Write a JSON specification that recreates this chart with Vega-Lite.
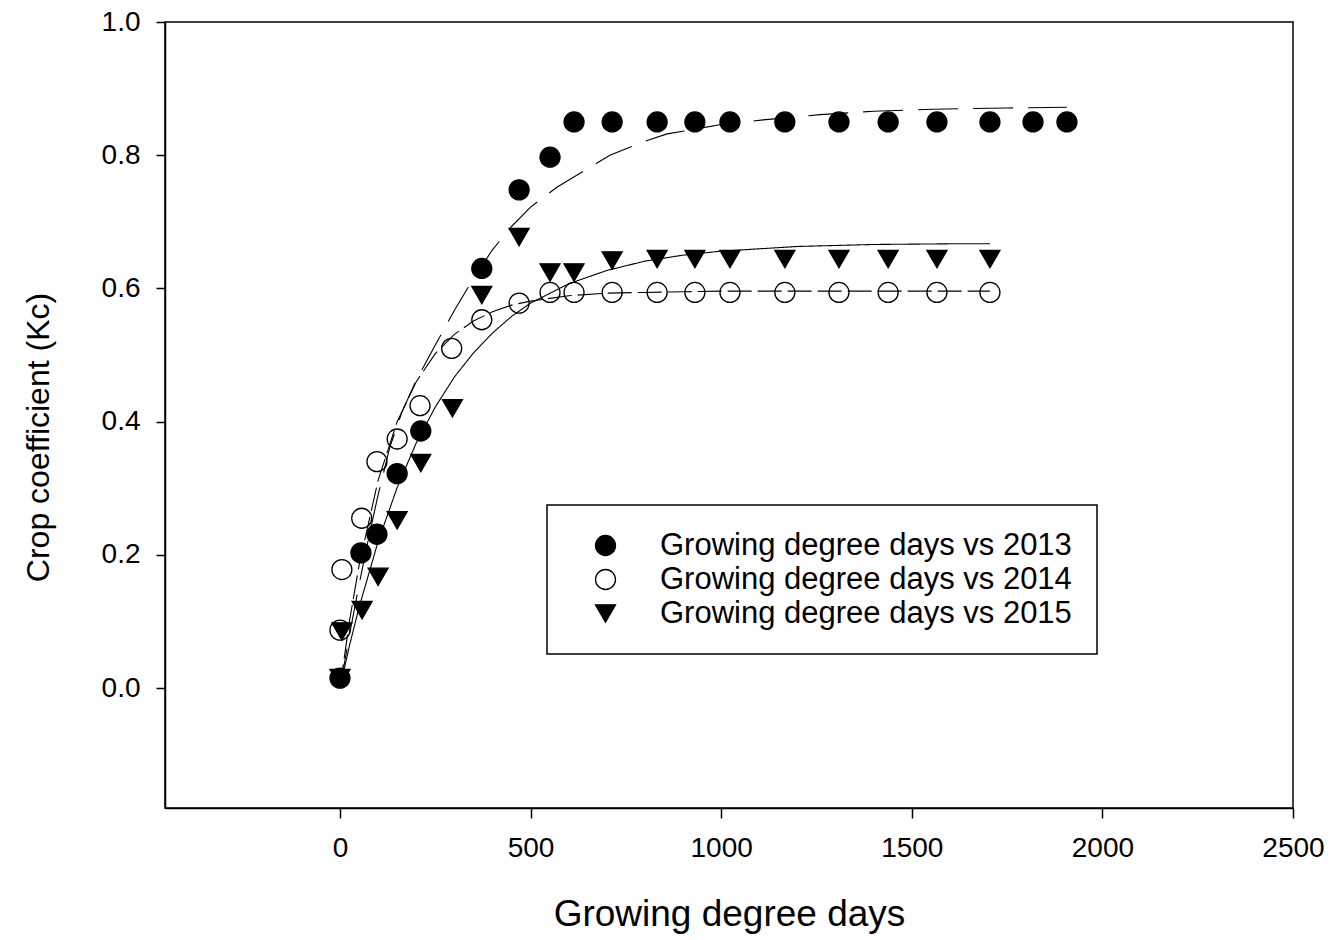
{
  "$schema": "https://vega.github.io/schema/vega-lite/v6.json",
  "width": 1128,
  "height": 786,
  "autosize": "none",
  "padding": {"left": 165, "top": 22, "right": 40, "bottom": 132},
  "background": "white",
  "config": {
    "font": "Liberation Sans",
    "view": {"stroke": "black", "strokeWidth": 1.5},
    "legend": {"strokeColor": "black", "strokeWidth": 1.5},
    "axis": {
      "grid": false,
      "domainColor": "black",
      "domainWidth": 1.5,
      "tickColor": "black",
      "tickWidth": 1.5,
      "labelColor": "black",
      "titleColor": "black",
      "labelFont": "Liberation Sans",
      "titleFont": "Liberation Sans",
      "labelFontSize": 28,
      "titleFontSize": 33,
      "titleFontWeight": "normal",
      "labelFlush": false,
      "labelOverlap": false
    }
  },
  "datasets": {
    "points": [
      {"gdd": 0, "kc": 0.015, "series": "Growing degree days vs 2013"},
      {"gdd": 55, "kc": 0.203, "series": "Growing degree days vs 2013"},
      {"gdd": 97, "kc": 0.231, "series": "Growing degree days vs 2013"},
      {"gdd": 150, "kc": 0.322, "series": "Growing degree days vs 2013"},
      {"gdd": 212, "kc": 0.386, "series": "Growing degree days vs 2013"},
      {"gdd": 372, "kc": 0.630, "series": "Growing degree days vs 2013"},
      {"gdd": 470, "kc": 0.748, "series": "Growing degree days vs 2013"},
      {"gdd": 551, "kc": 0.797, "series": "Growing degree days vs 2013"},
      {"gdd": 614, "kc": 0.850, "series": "Growing degree days vs 2013"},
      {"gdd": 714, "kc": 0.850, "series": "Growing degree days vs 2013"},
      {"gdd": 832, "kc": 0.850, "series": "Growing degree days vs 2013"},
      {"gdd": 931, "kc": 0.850, "series": "Growing degree days vs 2013"},
      {"gdd": 1023, "kc": 0.850, "series": "Growing degree days vs 2013"},
      {"gdd": 1167, "kc": 0.850, "series": "Growing degree days vs 2013"},
      {"gdd": 1309, "kc": 0.850, "series": "Growing degree days vs 2013"},
      {"gdd": 1438, "kc": 0.850, "series": "Growing degree days vs 2013"},
      {"gdd": 1566, "kc": 0.850, "series": "Growing degree days vs 2013"},
      {"gdd": 1705, "kc": 0.850, "series": "Growing degree days vs 2013"},
      {"gdd": 1818, "kc": 0.850, "series": "Growing degree days vs 2013"},
      {"gdd": 1907, "kc": 0.850, "series": "Growing degree days vs 2013"},
      {"gdd": 0, "kc": 0.087, "series": "Growing degree days vs 2014"},
      {"gdd": 5, "kc": 0.178, "series": "Growing degree days vs 2014"},
      {"gdd": 57, "kc": 0.255, "series": "Growing degree days vs 2014"},
      {"gdd": 97, "kc": 0.340, "series": "Growing degree days vs 2014"},
      {"gdd": 150, "kc": 0.374, "series": "Growing degree days vs 2014"},
      {"gdd": 210, "kc": 0.424, "series": "Growing degree days vs 2014"},
      {"gdd": 293, "kc": 0.510, "series": "Growing degree days vs 2014"},
      {"gdd": 372, "kc": 0.553, "series": "Growing degree days vs 2014"},
      {"gdd": 470, "kc": 0.578, "series": "Growing degree days vs 2014"},
      {"gdd": 551, "kc": 0.594, "series": "Growing degree days vs 2014"},
      {"gdd": 614, "kc": 0.594, "series": "Growing degree days vs 2014"},
      {"gdd": 714, "kc": 0.594, "series": "Growing degree days vs 2014"},
      {"gdd": 832, "kc": 0.594, "series": "Growing degree days vs 2014"},
      {"gdd": 931, "kc": 0.594, "series": "Growing degree days vs 2014"},
      {"gdd": 1023, "kc": 0.594, "series": "Growing degree days vs 2014"},
      {"gdd": 1167, "kc": 0.594, "series": "Growing degree days vs 2014"},
      {"gdd": 1309, "kc": 0.594, "series": "Growing degree days vs 2014"},
      {"gdd": 1438, "kc": 0.594, "series": "Growing degree days vs 2014"},
      {"gdd": 1566, "kc": 0.594, "series": "Growing degree days vs 2014"},
      {"gdd": 1705, "kc": 0.594, "series": "Growing degree days vs 2014"},
      {"gdd": 0, "kc": 0.015, "series": "Growing degree days vs 2015"},
      {"gdd": 5, "kc": 0.085, "series": "Growing degree days vs 2015"},
      {"gdd": 58, "kc": 0.117, "series": "Growing degree days vs 2015"},
      {"gdd": 100, "kc": 0.167, "series": "Growing degree days vs 2015"},
      {"gdd": 150, "kc": 0.252, "series": "Growing degree days vs 2015"},
      {"gdd": 212, "kc": 0.338, "series": "Growing degree days vs 2015"},
      {"gdd": 295, "kc": 0.420, "series": "Growing degree days vs 2015"},
      {"gdd": 372, "kc": 0.590, "series": "Growing degree days vs 2015"},
      {"gdd": 470, "kc": 0.677, "series": "Growing degree days vs 2015"},
      {"gdd": 551, "kc": 0.624, "series": "Growing degree days vs 2015"},
      {"gdd": 614, "kc": 0.624, "series": "Growing degree days vs 2015"},
      {"gdd": 714, "kc": 0.642, "series": "Growing degree days vs 2015"},
      {"gdd": 832, "kc": 0.644, "series": "Growing degree days vs 2015"},
      {"gdd": 931, "kc": 0.644, "series": "Growing degree days vs 2015"},
      {"gdd": 1023, "kc": 0.644, "series": "Growing degree days vs 2015"},
      {"gdd": 1167, "kc": 0.644, "series": "Growing degree days vs 2015"},
      {"gdd": 1309, "kc": 0.644, "series": "Growing degree days vs 2015"},
      {"gdd": 1438, "kc": 0.644, "series": "Growing degree days vs 2015"},
      {"gdd": 1566, "kc": 0.644, "series": "Growing degree days vs 2015"},
      {"gdd": 1705, "kc": 0.644, "series": "Growing degree days vs 2015"}
    ],
    "curves": [
      {"gdd": 0, "kc": 0.0, "curve": "fit 2013"},
      {"gdd": 25, "kc": 0.08, "curve": "fit 2013"},
      {"gdd": 50, "kc": 0.155, "curve": "fit 2013"},
      {"gdd": 75, "kc": 0.225, "curve": "fit 2013"},
      {"gdd": 100, "kc": 0.29, "curve": "fit 2013"},
      {"gdd": 131, "kc": 0.362, "curve": "fit 2013"},
      {"gdd": 163, "kc": 0.415, "curve": "fit 2013"},
      {"gdd": 200, "kc": 0.462, "curve": "fit 2013"},
      {"gdd": 250, "kc": 0.515, "curve": "fit 2013"},
      {"gdd": 300, "kc": 0.567, "curve": "fit 2013"},
      {"gdd": 350, "kc": 0.615, "curve": "fit 2013"},
      {"gdd": 400, "kc": 0.658, "curve": "fit 2013"},
      {"gdd": 450, "kc": 0.693, "curve": "fit 2013"},
      {"gdd": 500, "kc": 0.722, "curve": "fit 2013"},
      {"gdd": 569, "kc": 0.752, "curve": "fit 2013"},
      {"gdd": 650, "kc": 0.780, "curve": "fit 2013"},
      {"gdd": 708, "kc": 0.800, "curve": "fit 2013"},
      {"gdd": 800, "kc": 0.821, "curve": "fit 2013"},
      {"gdd": 858, "kc": 0.832, "curve": "fit 2013"},
      {"gdd": 1000, "kc": 0.846, "curve": "fit 2013"},
      {"gdd": 1110, "kc": 0.853, "curve": "fit 2013"},
      {"gdd": 1259, "kc": 0.861, "curve": "fit 2013"},
      {"gdd": 1400, "kc": 0.866, "curve": "fit 2013"},
      {"gdd": 1556, "kc": 0.869, "curve": "fit 2013"},
      {"gdd": 1750, "kc": 0.871, "curve": "fit 2013"},
      {"gdd": 1907, "kc": 0.872, "curve": "fit 2013"},
      {"gdd": 0, "kc": 0.0, "curve": "fit 2014"},
      {"gdd": 25, "kc": 0.101, "curve": "fit 2014"},
      {"gdd": 50, "kc": 0.184, "curve": "fit 2014"},
      {"gdd": 100, "kc": 0.312, "curve": "fit 2014"},
      {"gdd": 150, "kc": 0.400, "curve": "fit 2014"},
      {"gdd": 200, "kc": 0.460, "curve": "fit 2014"},
      {"gdd": 250, "kc": 0.502, "curve": "fit 2014"},
      {"gdd": 300, "kc": 0.531, "curve": "fit 2014"},
      {"gdd": 350, "kc": 0.551, "curve": "fit 2014"},
      {"gdd": 400, "kc": 0.565, "curve": "fit 2014"},
      {"gdd": 450, "kc": 0.575, "curve": "fit 2014"},
      {"gdd": 500, "kc": 0.581, "curve": "fit 2014"},
      {"gdd": 600, "kc": 0.589, "curve": "fit 2014"},
      {"gdd": 700, "kc": 0.593, "curve": "fit 2014"},
      {"gdd": 800, "kc": 0.594, "curve": "fit 2014"},
      {"gdd": 900, "kc": 0.595, "curve": "fit 2014"},
      {"gdd": 1000, "kc": 0.596, "curve": "fit 2014"},
      {"gdd": 1200, "kc": 0.596, "curve": "fit 2014"},
      {"gdd": 1400, "kc": 0.596, "curve": "fit 2014"},
      {"gdd": 1600, "kc": 0.596, "curve": "fit 2014"},
      {"gdd": 1705, "kc": 0.596, "curve": "fit 2014"},
      {"gdd": 0, "kc": 0.0, "curve": "fit 2015"},
      {"gdd": 25, "kc": 0.064, "curve": "fit 2015"},
      {"gdd": 50, "kc": 0.121, "curve": "fit 2015"},
      {"gdd": 100, "kc": 0.220, "curve": "fit 2015"},
      {"gdd": 150, "kc": 0.301, "curve": "fit 2015"},
      {"gdd": 200, "kc": 0.368, "curve": "fit 2015"},
      {"gdd": 250, "kc": 0.422, "curve": "fit 2015"},
      {"gdd": 300, "kc": 0.467, "curve": "fit 2015"},
      {"gdd": 350, "kc": 0.503, "curve": "fit 2015"},
      {"gdd": 400, "kc": 0.533, "curve": "fit 2015"},
      {"gdd": 450, "kc": 0.558, "curve": "fit 2015"},
      {"gdd": 500, "kc": 0.578, "curve": "fit 2015"},
      {"gdd": 600, "kc": 0.607, "curve": "fit 2015"},
      {"gdd": 700, "kc": 0.627, "curve": "fit 2015"},
      {"gdd": 800, "kc": 0.641, "curve": "fit 2015"},
      {"gdd": 900, "kc": 0.650, "curve": "fit 2015"},
      {"gdd": 1000, "kc": 0.656, "curve": "fit 2015"},
      {"gdd": 1200, "kc": 0.663, "curve": "fit 2015"},
      {"gdd": 1400, "kc": 0.666, "curve": "fit 2015"},
      {"gdd": 1600, "kc": 0.667, "curve": "fit 2015"},
      {"gdd": 1705, "kc": 0.667, "curve": "fit 2015"}
    ]
  },
  "layer": [
    {
      "data": {"name": "curves"},
      "mark": {"type": "line", "color": "black", "strokeWidth": 1.1, "clip": true},
      "encoding": {
        "x": {
          "field": "gdd", "type": "quantitative",
          "scale": {"domain": [-459, 2500], "nice": false, "zero": false},
          "axis": {
            "title": "Growing degree days",
            "values": [0, 500, 1000, 1500, 2000, 2500],
            "format": "d",
            "tickSize": 10,
            "labelPadding": 16,
            "titleFontSize": 37,
            "titlePadding": 34
          }
        },
        "y": {
          "field": "kc", "type": "quantitative",
          "scale": {"domain": [-0.18, 1.0], "nice": false, "zero": false},
          "axis": {
            "title": "Crop coefficient (Kc)",
            "values": [0, 0.2, 0.4, 0.6, 0.8, 1.0],
            "format": ".1f",
            "tickSize": 9,
            "labelPadding": 16,
            "titleFontSize": 32,
            "titlePadding": 46,
            "titleY": 415
          }
        },
        "strokeDash": {
          "field": "curve", "type": "nominal",
          "scale": {"domain": ["fit 2013", "fit 2014", "fit 2015"], "range": [[40, 15], [24, 6], [1, 0]]},
          "legend": null
        }
      }
    },
    {
      "data": {"name": "points"},
      "mark": {"type": "point", "opacity": 1, "strokeWidth": 1.3, "size": 400},
      "encoding": {
        "x": {"field": "gdd", "type": "quantitative"},
        "y": {"field": "kc", "type": "quantitative"},
        "shape": {
          "field": "series", "type": "nominal",
          "scale": {
            "domain": ["Growing degree days vs 2013", "Growing degree days vs 2014", "Growing degree days vs 2015"],
            "range": ["circle", "circle", "triangle-down"]
          },
          "legend": {
            "title": null,
            "orient": "none",
            "legendX": 382,
            "legendY": 483,
            "padding": 25,
            "strokeColor": "black",
            "fillColor": "white",
            "symbolOffset": 18,
            "labelOffset": 39,
            "labelFontSize": 31,
            "labelColor": "black",
            "labelFont": "Liberation Sans",
            "labelLimit": 0,
            "symbolSize": 400,
            "symbolStrokeWidth": 1.3,
            "rowPadding": 2
          }
        },
        "fill": {
          "field": "series", "type": "nominal",
          "scale": {
            "domain": ["Growing degree days vs 2013", "Growing degree days vs 2014", "Growing degree days vs 2015"],
            "range": ["black", "transparent", "black"]
          },
          "legend": {"title": null}
        },
        "stroke": {
          "field": "series", "type": "nominal",
          "scale": {
            "domain": ["Growing degree days vs 2013", "Growing degree days vs 2014", "Growing degree days vs 2015"],
            "range": ["black", "black", "black"]
          },
          "legend": {"title": null}
        }
      }
    }
  ]
}
